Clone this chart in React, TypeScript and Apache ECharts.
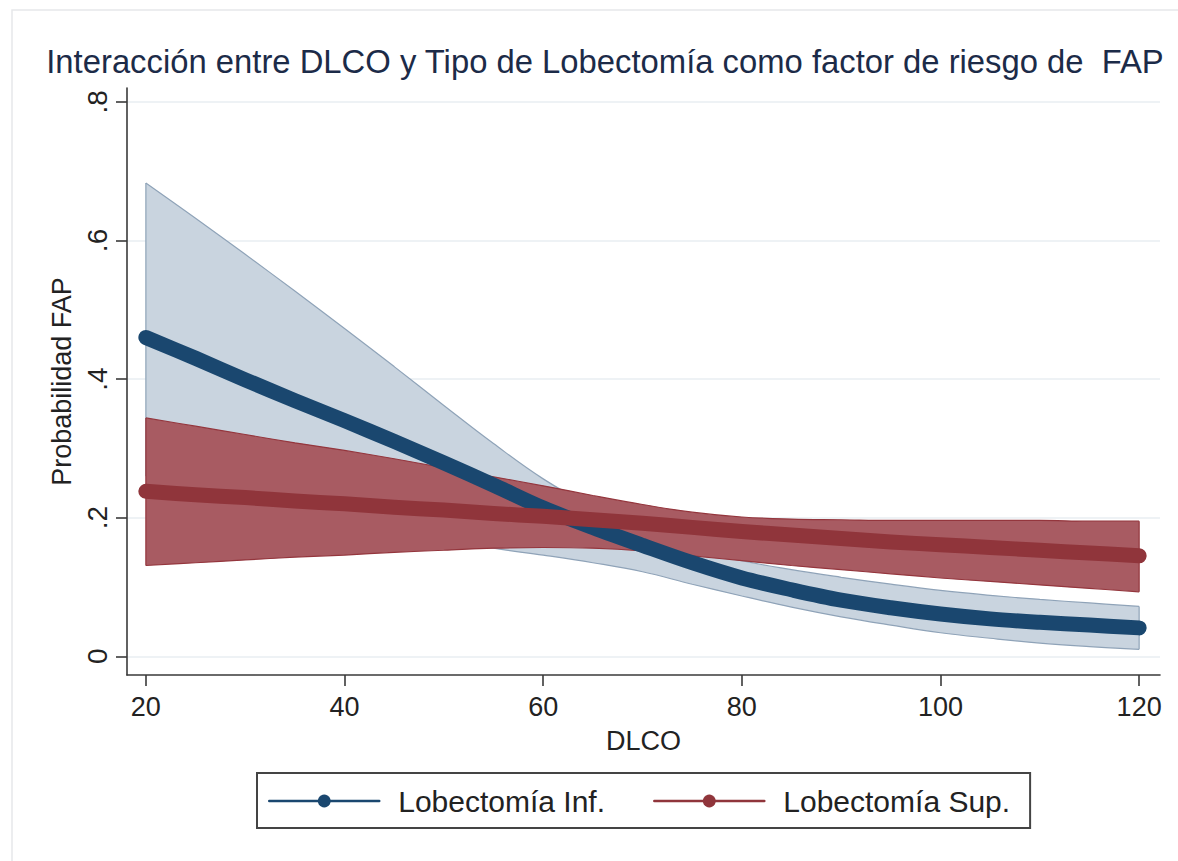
import React, { useEffect, useRef } from "react";
import * as echarts from "echarts";

const titleText = "Interacción entre DLCO y Tipo de Lobectomía como factor de riesgo de  FAP";
const xName = "DLCO";
const yName = "Probabilidad FAP";
const seriesNames = ["Lobectomía Inf.", "Lobectomía Sup."];

const dlco = [20, 25, 30, 35, 40, 45, 50, 55, 60, 65, 70, 75, 80, 85, 90, 95, 100, 105, 110, 115, 120];

const infMean = [0.46, 0.43, 0.399, 0.369, 0.34, 0.31, 0.279, 0.247, 0.214, 0.186, 0.16, 0.135, 0.113, 0.096, 0.081, 0.07, 0.061, 0.054, 0.049, 0.045, 0.041];
const infUpper = [0.683, 0.632, 0.58, 0.527, 0.473, 0.418, 0.362, 0.307, 0.256, 0.215, 0.182, 0.156, 0.138, 0.125, 0.114, 0.104, 0.095, 0.088, 0.082, 0.077, 0.072];
const infLower = [0.26, 0.245, 0.23, 0.215, 0.2, 0.185, 0.17, 0.156, 0.146, 0.135, 0.122, 0.104, 0.087, 0.071, 0.057, 0.045, 0.034, 0.026, 0.019, 0.014, 0.01];

const supMean = [0.238, 0.233, 0.229, 0.224, 0.22, 0.215, 0.211, 0.206, 0.202, 0.197, 0.192, 0.186, 0.18, 0.175, 0.17, 0.165, 0.161, 0.157, 0.153, 0.149, 0.145];
const supUpper = [0.344, 0.332, 0.32, 0.308, 0.297, 0.285, 0.272, 0.259, 0.246, 0.232, 0.219, 0.208, 0.201, 0.198, 0.197, 0.196, 0.196, 0.196, 0.196, 0.195, 0.195];
const supLower = [0.131, 0.135, 0.139, 0.143, 0.146, 0.15, 0.153, 0.156, 0.157, 0.156, 0.152, 0.145, 0.138, 0.131, 0.125, 0.119, 0.113, 0.108, 0.103, 0.098, 0.093];

const xTicks = [20, 40, 60, 80, 100, 120];
const yTicks = [0, 0.2, 0.4, 0.6, 0.8];

const FONT = "'Liberation Sans', Arial, sans-serif";
const NAVY = "#1a476f";
const MAROON = "#90353b";

function bandSeries(key: string, upper: number[], lower: number[], fill: string, stroke: string, z: number) {
  const last = dlco.length - 1;
  const common = {
    type: "line",
    stack: key,
    z,
    silent: true,
    smooth: 0.4,
    showSymbol: false,
    symbol: "none",
    encode: { x: 1, y: 0 },
    lineStyle: { color: stroke, width: 1.2 },
  };
  return [
    {
      ...common,
      name: key + " low",
      // value first so that the stack is applied on the y dimension
      data: dlco.map((x, i) => [lower[i], x]),
    },
    {
      ...common,
      name: key + " high",
      data: dlco.map((x, i) => [upper[i] - lower[i], x]),
      areaStyle: { color: fill, opacity: 1 },
    },
    {
      type: "custom",
      name: key + " edges",
      silent: true,
      z,
      data: [
        [dlco[0], upper[0], lower[0]],
        [dlco[last], upper[last], lower[last]],
      ],
      encode: { x: 0, y: [1, 2] },
      renderItem: (params: any, api: any) => {
        const p1 = api.coord([api.value(0), api.value(1)]);
        const p2 = api.coord([api.value(0), api.value(2)]);
        return {
          type: "line",
          shape: { x1: p1[0], y1: p1[1], x2: p2[0], y2: p2[1] },
          style: { stroke, lineWidth: 1.2 },
        };
      },
    },
  ];
}

function lineSeries(name: string, values: number[], color: string, z: number) {
  return {
    type: "line",
    name,
    z,
    data: dlco.map((x, i) => [x, values[i]]),
    smooth: 0.35,
    showSymbol: false,
    symbol: "circle",
    symbolSize: 14,
    itemStyle: { color },
    lineStyle: { color, width: 15, cap: "round", join: "round" },
  };
}

export default function App() {
  const ref = useRef<HTMLDivElement>(null);

  useEffect(() => {
    if (!ref.current) return;
    const chart = echarts.init(ref.current, undefined, { renderer: "svg" });
    chart.setOption({
      animation: false,
      backgroundColor: "#ffffff",
      title: {
        text: titleText,
        left: 600,
        textAlign: "center",
        top: 40,
        textStyle: { fontFamily: FONT, fontSize: 32.8, fontWeight: "normal", color: "#1c2b48" },
      },
      graphic: [
        {
          type: "rect",
          silent: true,
          z: -10,
          shape: { x: 12, y: 10, width: 1200, height: 900 },
          style: { fill: "none", stroke: "#e6e8ea", lineWidth: 1.5 },
        },
      ],
      grid: { left: 127, right: 18, top: 88, bottom: 186, containLabel: false },
      legend: {
        data: seriesNames,
        left: 257,
        top: 773,
        orient: "horizontal",
        itemWidth: 110,
        itemHeight: 16,
        itemGap: 48,
        padding: [13, 20, 12, 11],
        borderColor: "#444",
        borderWidth: 2,
        lineStyle: { width: 2.5 },
        textStyle: { fontFamily: FONT, fontSize: 30, color: "#222", padding: [0, 0, 0, 14] },
      },
      xAxis: {
        type: "value",
        min: 18.1,
        max: 122.1,
        name: xName,
        nameLocation: "middle",
        nameGap: 52,
        nameTextStyle: { fontFamily: FONT, fontSize: 27, color: "#222" },
        axisLine: { show: true, onZero: false, lineStyle: { color: "#3a3a3a", width: 1.6 } },
        axisTick: { show: true, length: 11, customValues: xTicks, lineStyle: { color: "#3a3a3a", width: 1.6 } },
        axisLabel: { customValues: xTicks, margin: 18, fontFamily: FONT, fontSize: 27, color: "#222" },
        splitLine: { show: false },
      },
      yAxis: {
        type: "value",
        min: -0.027,
        max: 0.82,
        name: yName,
        nameLocation: "middle",
        nameGap: 52,
        nameTextStyle: { fontFamily: FONT, fontSize: 27, color: "#222" },
        axisLine: { show: true, onZero: false, lineStyle: { color: "#3a3a3a", width: 1.6 } },
        axisTick: { show: true, length: 11, customValues: yTicks, lineStyle: { color: "#3a3a3a", width: 1.6 } },
        axisLabel: {
          customValues: yTicks,
          rotate: 90,
          margin: 16,
          fontFamily: FONT,
          fontSize: 28,
          color: "#222",
          formatter: (v: number) => (v === 0 ? "0" : String(v).replace(/^0\./, ".")),
        },
        splitLine: { show: true, lineStyle: { color: "#e9eef2", width: 1.5 } },
      },
      series: [
        ...bandSeries("IC Inf.", infUpper, infLower, "#c9d4df", "#8fa3b8", 1),
        ...bandSeries("IC Sup.", supUpper, supLower, "#a85b62", "#94363d", 2),
        lineSeries(seriesNames[0], infMean, NAVY, 3),
        lineSeries(seriesNames[1], supMean, MAROON, 4),
      ],
    });
    return () => chart.dispose();
  }, []);

  return (
    <div
      ref={ref}
      style={{ position: "fixed", left: 0, top: 0, width: 1178, height: 861, background: "#fff" }}
    />
  );
}
